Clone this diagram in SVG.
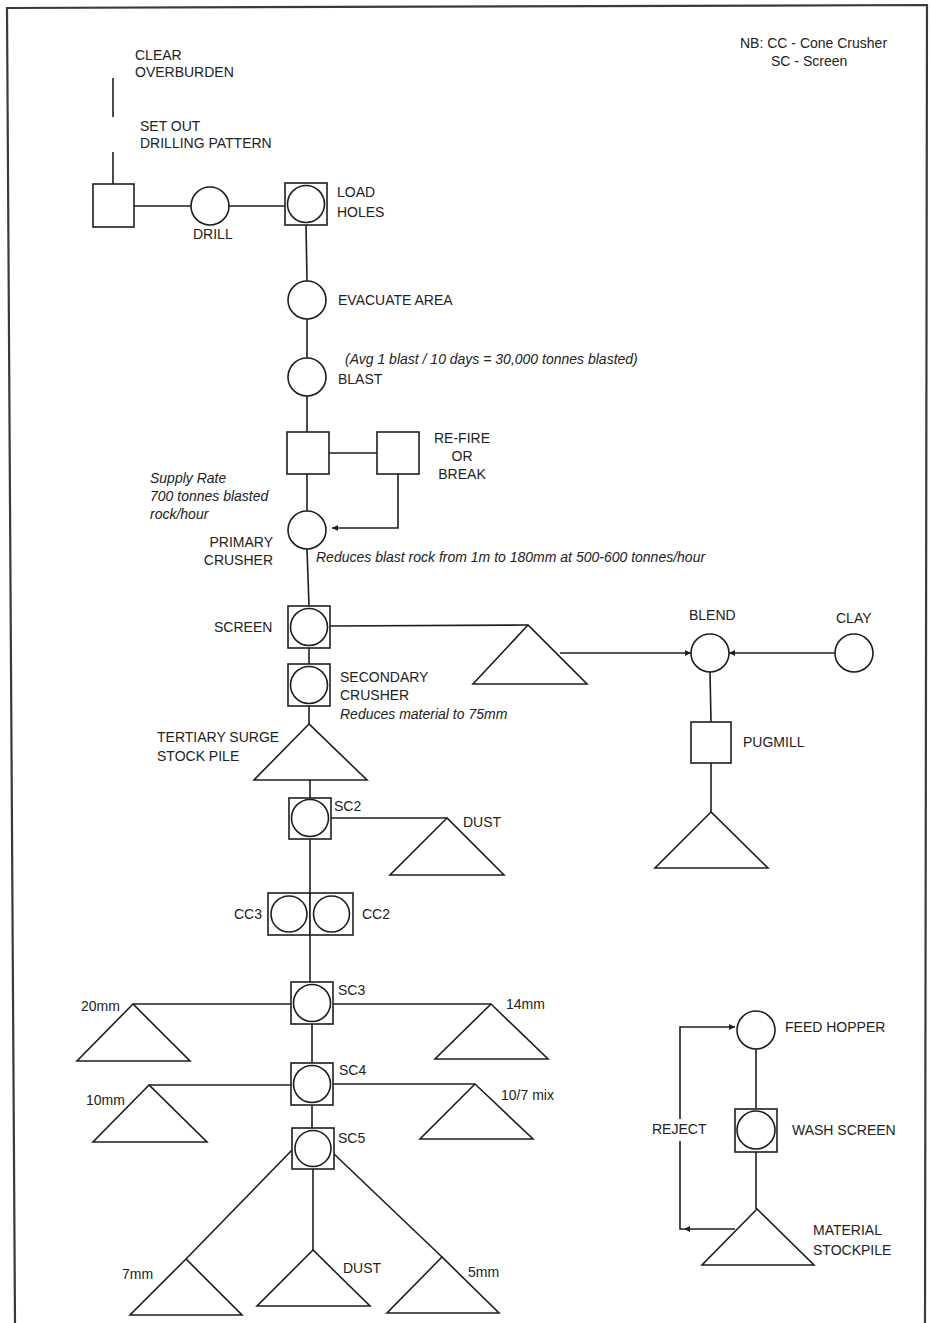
<svg xmlns="http://www.w3.org/2000/svg" width="931" height="1323" viewBox="0 0 931 1323">
<defs>
<style>
.ln{fill:none;stroke:#1e1e1e;stroke-width:1.6}
.fr{fill:none;stroke:#3a3a3a;stroke-width:2.2}
.sh{fill:#fff;stroke:#1e1e1e;stroke-width:1.6}
text{font-family:"Liberation Sans",Arial,sans-serif;font-size:14px;fill:#222}
.it{font-style:italic}
.e{text-anchor:end}
.m{text-anchor:middle}
</style>
<marker id="ah" viewBox="0 0 10 10" refX="10" refY="5" markerWidth="8" markerHeight="6" orient="auto" markerUnits="userSpaceOnUse"><path d="M0,0 L10,5 L0,10 z" fill="#1e1e1e"/></marker>
</defs>
<rect width="931" height="1323" fill="#fff"/>
<path id="frame" class="fr" d="M15,1323 L7,8 L927,5 L925,1323"/>

<g id="connectors" class="ln">
<path d="M113,78 V117"/>
<path d="M113,152 V184"/>
<path d="M134,206 H191"/>
<path d="M229,206 H285"/>
<path d="M306,225 L307,281"/>
<path d="M307,319 V358"/>
<path d="M307,396 V432"/>
<path d="M329,453 H377"/>
<path d="M307,474 V511"/>
<path d="M398,474 V528 H332" marker-end="url(#ah)"/>
<path d="M307,549 L309,606"/>
<path d="M330,626 L528,625"/>
<path d="M560,653 H691" marker-end="url(#ah)"/>
<path d="M835,653 H729" marker-end="url(#ah)"/>
<path d="M710,672 L711,722"/>
<path d="M711,763 V812"/>
<path d="M309,648 V664"/>
<path d="M309,706 V724"/>
<path d="M310,780 V798"/>
<path d="M331,818 H447"/>
<path d="M310,839 V982"/>
<path d="M133,1004 H291"/>
<path d="M333,1004 H491"/>
<path d="M312,1024 V1063"/>
<path d="M149,1085 H291"/>
<path d="M333,1084 H475"/>
<path d="M312,1105 V1128"/>
<path d="M293,1149 L186,1259"/>
<path d="M313,1169 V1250"/>
<path d="M333,1153 L442,1257"/>
<path d="M756,1049 V1108"/>
<path d="M756,1152 V1209"/>
<path d="M735,1229 H684" marker-end="url(#ah)"/>
<path d="M684,1229 H680 V1141"/>
<path d="M680,1119 V1027 H735" marker-end="url(#ah)"/>
</g>

<g id="legend">
<text x="740" y="48">NB: CC - Cone Crusher</text>
<text x="771" y="66">SC - Screen</text>
</g>

<g id="clear-overburden">
<text x="135" y="60">CLEAR</text>
<text x="135" y="77">OVERBURDEN</text>
</g>

<g id="set-out">
<text x="140" y="131">SET OUT</text>
<text x="140" y="148">DRILLING PATTERN</text>
<rect class="sh" x="93" y="184" width="41" height="43"/>
</g>

<g id="drill">
<circle class="sh" cx="210" cy="206" r="19"/>
<text x="193" y="239">DRILL</text>
</g>

<g id="load-holes">
<rect class="sh" x="285" y="183" width="42" height="42"/>
<circle class="sh" cx="306" cy="204" r="18.5"/>
<text x="337" y="197">LOAD</text>
<text x="337" y="217">HOLES</text>
</g>

<g id="evacuate">
<circle class="sh" cx="307" cy="300" r="19"/>
<text x="338" y="305">EVACUATE AREA</text>
</g>

<g id="blast">
<circle class="sh" cx="307" cy="377" r="19"/>
<text class="it" x="345" y="364">(Avg 1 blast / 10 days = 30,000 tonnes blasted)</text>
<text x="338" y="384">BLAST</text>
</g>

<g id="check">
<rect class="sh" x="287" y="432" width="42" height="42"/>
</g>

<g id="refire">
<rect class="sh" x="377" y="432" width="42" height="42"/>
<text class="m" x="462" y="443">RE-FIRE</text>
<text class="m" x="462" y="461">OR</text>
<text class="m" x="462" y="479">BREAK</text>
</g>

<g id="primary-crusher">
<circle class="sh" cx="307" cy="530" r="19"/>
<text class="it" x="150" y="483">Supply Rate</text>
<text class="it" x="150" y="501">700 tonnes blasted</text>
<text class="it" x="150" y="519">rock/hour</text>
<text class="e" x="273" y="547">PRIMARY</text>
<text class="e" x="273" y="565">CRUSHER</text>
<text class="it" x="316" y="562">Reduces blast rock from 1m to 180mm at 500-600 tonnes/hour</text>
</g>

<g id="screen">
<rect class="sh" x="288" y="606" width="42" height="42"/>
<circle class="sh" cx="309" cy="627" r="18.5"/>
<text x="214" y="632">SCREEN</text>
</g>

<g id="screen-pile">
<polygon class="sh" points="528,625 473,684 587,684"/>
</g>

<g id="blend">
<circle class="sh" cx="710" cy="653" r="19"/>
<text x="689" y="620">BLEND</text>
</g>

<g id="clay">
<circle class="sh" cx="854" cy="653" r="19"/>
<text x="836" y="623">CLAY</text>
</g>

<g id="pugmill">
<rect class="sh" x="691" y="722" width="40" height="41"/>
<text x="743" y="747">PUGMILL</text>
</g>

<g id="pugmill-pile">
<polygon class="sh" points="711,812 655,868 768,868"/>
</g>

<g id="secondary-crusher">
<rect class="sh" x="288" y="664" width="42" height="42"/>
<circle class="sh" cx="309" cy="685" r="18.5"/>
<text x="340" y="682">SECONDARY</text>
<text x="340" y="700">CRUSHER</text>
<text class="it" x="340" y="719">Reduces material to 75mm</text>
</g>

<g id="tertiary-surge">
<polygon class="sh" points="309,724 254,780 367,780"/>
<text x="157" y="742">TERTIARY SURGE</text>
<text x="157" y="761">STOCK PILE</text>
</g>

<g id="sc2">
<rect class="sh" x="289" y="798" width="42" height="41"/>
<circle class="sh" cx="310" cy="818" r="18.5"/>
<text x="334" y="811">SC2</text>
</g>

<g id="dust-1">
<polygon class="sh" points="447,818 390,875 504,875"/>
<text x="463" y="827">DUST</text>
</g>

<g id="cc3">
<rect class="sh" x="268" y="893" width="42" height="42"/>
<circle class="sh" cx="289" cy="914" r="18"/>
<text x="234" y="919">CC3</text>
</g>

<g id="cc2">
<rect class="sh" x="310" y="893" width="43" height="42"/>
<circle class="sh" cx="331.5" cy="914" r="18"/>
<text x="362" y="919">CC2</text>
</g>

<g id="sc3">
<rect class="sh" x="291" y="982" width="42" height="42"/>
<circle class="sh" cx="312" cy="1003" r="18.5"/>
<text x="338" y="995">SC3</text>
</g>

<g id="pile-20mm">
<polygon class="sh" points="133,1004 77,1061 190,1061"/>
<text x="81" y="1011">20mm</text>
</g>

<g id="pile-14mm">
<polygon class="sh" points="491,1004 435,1059 548,1059"/>
<text x="506" y="1009">14mm</text>
</g>

<g id="sc4">
<rect class="sh" x="291" y="1063" width="42" height="42"/>
<circle class="sh" cx="312" cy="1084" r="18.5"/>
<text x="339" y="1075">SC4</text>
</g>

<g id="pile-10mm">
<polygon class="sh" points="149,1085 93,1142 207,1142"/>
<text x="86" y="1105">10mm</text>
</g>

<g id="pile-10-7mix">
<polygon class="sh" points="475,1084 420,1139 533,1139"/>
<text x="501" y="1100">10/7 mix</text>
</g>

<g id="sc5">
<rect class="sh" x="292" y="1128" width="42" height="41"/>
<circle class="sh" cx="313" cy="1148.5" r="18"/>
<text x="338" y="1143">SC5</text>
</g>

<g id="pile-7mm">
<polygon class="sh" points="186,1259 130,1315 242,1315"/>
<text x="122" y="1279">7mm</text>
</g>

<g id="pile-dust">
<polygon class="sh" points="313,1250 257,1306 370,1306"/>
<text x="343" y="1273">DUST</text>
</g>

<g id="pile-5mm">
<polygon class="sh" points="442,1257 387,1313 499,1313"/>
<text x="468" y="1277">5mm</text>
</g>

<g id="feed-hopper">
<circle class="sh" cx="756" cy="1030" r="19"/>
<text x="785" y="1032">FEED HOPPER</text>
</g>

<g id="wash-screen">
<rect class="sh" x="735" y="1109" width="42" height="43"/>
<circle class="sh" cx="756" cy="1130" r="19"/>
<text x="792" y="1135">WASH SCREEN</text>
</g>

<g id="material-stockpile">
<polygon class="sh" points="757,1209 702,1265 814,1265"/>
<text x="813" y="1235">MATERIAL</text>
<text x="813" y="1255">STOCKPILE</text>
</g>

<g id="reject">
<text x="652" y="1134">REJECT</text>
</g>
</svg>
